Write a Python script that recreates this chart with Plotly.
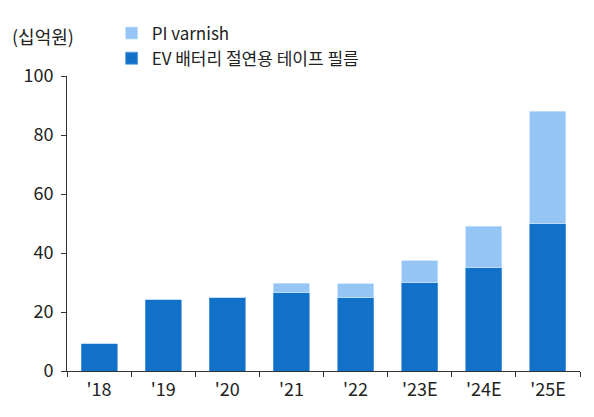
import plotly.graph_objects as go

categories = ["'18", "'19", "'20", "'21", "'22", "'23E", "'24E", "'25E"]
ev_tape = [9.2, 24.2, 25.0, 26.6, 24.9, 30.0, 35.0, 50.0]
pi_varnish = [0, 0, 0, 3.2, 4.7, 7.3, 14.0, 38.0]

font_family = "Noto Sans CJK KR"
dark = "#1170C8"
light = "#94C5F5"
txt = "#222222"

fig = go.Figure()
fig.add_trace(go.Bar(x=categories, y=ev_tape, name="EV 배터리 절연용 테이프 필름",
                     marker=dict(color=dark, line=dict(color="#5A9FE0", width=0.8))))
fig.add_trace(go.Bar(x=categories, y=pi_varnish, name="PI varnish",
                     marker=dict(color=light, line=dict(color="#C4E0FA", width=0.8))))

fig.update_layout(
    width=594, height=417,
    barmode="stack", bargap=0.44,
    margin=dict(l=59, r=22, t=68, b=53.5, autoexpand=False),
    paper_bgcolor="white", plot_bgcolor="white",
    font=dict(family=font_family, size=18, color=txt),
    showlegend=True,
    legend=dict(traceorder="reversed", x=0.087, y=1.205, xanchor="left", yanchor="top",
                bgcolor="rgba(0,0,0,0)", font=dict(size=17, color=txt),
                itemwidth=30, tracegroupgap=0),
)
fig.add_annotation(text="(십억원)", xref="paper", yref="paper",
                   x=-0.112, y=1.135, xanchor="left", yanchor="middle",
                   showarrow=False, font=dict(size=18, color=txt))

fig.update_yaxes(range=[0, 100], dtick=20, showgrid=False, zeroline=False,
                 showline=True, linecolor="#333333", linewidth=1,
                 ticks="outside", ticklen=5, tickcolor="#333333",
                 ticklabelstandoff=4,
                 tickfont=dict(size=18, color=txt))
fig.update_xaxes(range=[-0.5, 7.5], showgrid=False, showline=True,
                 linecolor="#333333", linewidth=1.2,
                 ticks="outside", ticklen=5, tickcolor="#333333", tickson="boundaries",
                 ticklabelstandoff=2,
                 tickfont=dict(size=18, color=txt))

fig.write_html("out.html")
